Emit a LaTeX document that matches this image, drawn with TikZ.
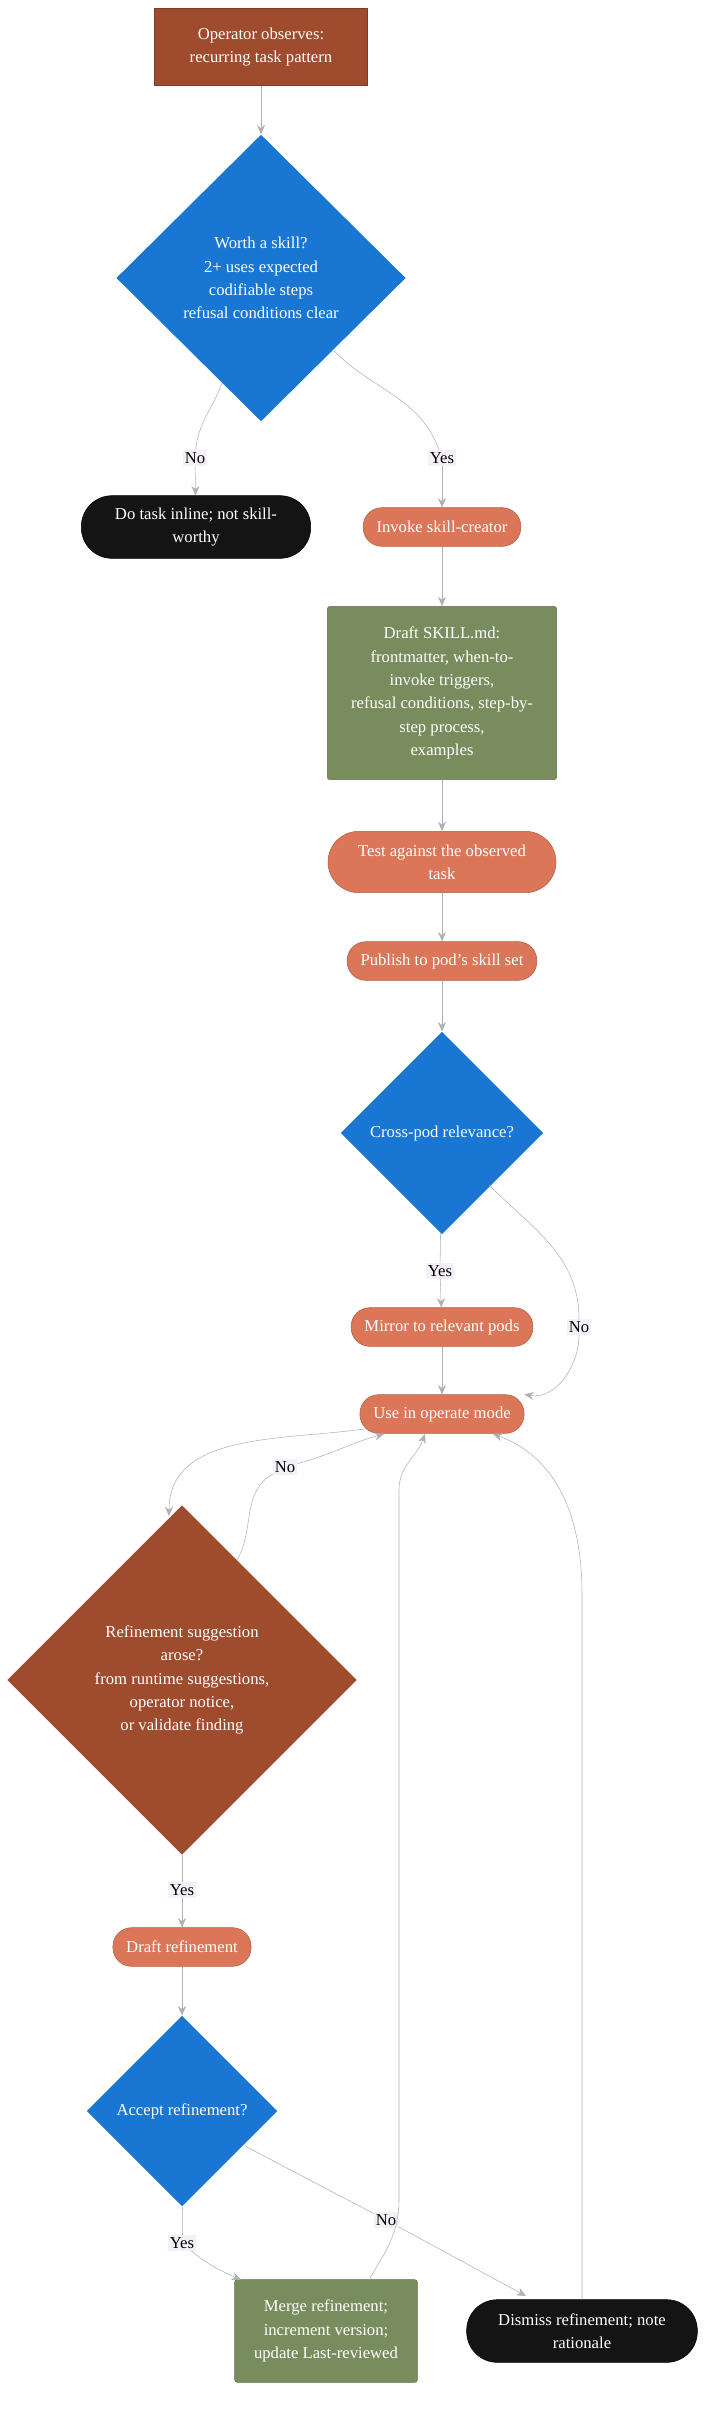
\documentclass[tikz,border=0pt]{standalone}
\usepackage{fontspec}
\setmainfont{Liberation Serif}
\usetikzlibrary{arrows.meta,positioning,shapes.geometric}
\definecolor{rust}{HTML}{9F4B2E}
\definecolor{skyblue}{HTML}{1976D2}
\definecolor{coal}{HTML}{141414}
\definecolor{clay}{HTML}{DB7758}
\definecolor{moss}{HTML}{788C5D}
\definecolor{wire}{HTML}{B0B0B0}
\definecolor{tag}{HTML}{F4F0F8}
\begin{document}
\begin{tikzpicture}[
    x=0.75pt, y=-0.75pt,
    every node/.style={font=\fontsize{12.5}{17.5}\selectfont, text=white, align=center},
    box/.style={rectangle, draw=#1!80!black, fill=#1, inner sep=2pt},
    task/.style={rectangle, rounded corners=14pt, draw=clay!80!black, fill=clay, minimum height=29pt, inner xsep=10pt},
    stop/.style={rectangle, rounded corners=23pt, draw=black, fill=coal, minimum height=47pt, inner xsep=10pt},
    choice/.style={diamond, fill=skyblue, inner sep=0pt},
    edgetag/.style={fill=tag, text=black, inner sep=1.5pt},
    arrow/.style={-{Stealth[length=7pt,width=6pt]}, draw=wire, thin}
]
\useasboundingbox (0,0) rectangle (708,2409);

% Intake
\node[box=rust, minimum width=160pt, minimum height=58pt] (observe) at (261,47) {Operator observes:\\recurring task pattern};
\node[choice, minimum width=217pt, minimum height=215pt] (worth) at (261,278) {Worth a skill?\\2+ uses expected\\codifiable steps\\refusal conditions clear};
\node[stop, minimum width=172pt] (inline) at (196,527) {Do task inline; not skill-\\worthy};
\node[task] (invoke) at (442,527) {Invoke skill-creator};

% Authoring
\node[box=moss, rounded corners=2pt, minimum width=172pt, minimum height=130pt] (draft) at (442,693) {Draft SKILL.md:\\frontmatter, when-to-\\invoke triggers,\\refusal conditions, step-by-\\step process,\\examples};
\node[task, rounded corners=23pt, minimum height=46pt, minimum width=171pt] (test) at (442,862) {Test against the observed\\task};
\node[task] (publish) at (442,961) {Publish to pod's skill set};
\node[choice, minimum width=152pt, minimum height=152pt] (crosspod) at (442,1133) {Cross-pod relevance?};
\node[task] (mirror) at (442,1327) {Mirror to relevant pods};
\node[task] (operate) at (442,1414) {Use in operate mode};

% Refinement loop
\node[choice, fill=rust, minimum width=262pt, minimum height=262pt] (refine) at (182,1680) {Refinement suggestion\\arose?\\from runtime suggestions,\\operator notice,\\or validate finding};
\node[task] (draftref) at (182,1947) {Draft refinement};
\node[choice, minimum width=143pt, minimum height=143pt] (accept) at (182,2111) {Accept refinement?};
\node[box=moss, rounded corners=2pt, minimum width=137pt, minimum height=77pt] (merge) at (326,2331) {Merge refinement;\\increment version;\\update Last-reviewed};
\node[stop, minimum width=173pt] (dismiss) at (582,2331) {Dismiss refinement; note\\rationale};

% Edge labels
\node[edgetag] (lno1) at (195,458) {No};
\node[edgetag] (lyes1) at (442,458) {Yes};
\node[edgetag] (lyes2) at (440,1271) {Yes};
\node[edgetag] (lno2) at (579,1327) {No};
\node[edgetag] (lno3) at (285,1467) {No};
\node[edgetag] (lyes3) at (182,1890) {Yes};
\node[edgetag] (lyes4) at (182,2243) {Yes};
\node[edgetag] (lno4) at (386,2220) {No};

% Connectors
\draw[arrow] (observe) -- (worth);
\draw[draw=wire] (222,383) to[out=-110,in=85] (lno1);
\draw[arrow] (lno1) -- (inline);
\draw[draw=wire] (334,351) to[out=-45,in=110] (lyes1);
\draw[arrow] (lyes1) -- (invoke);
\draw[arrow] (invoke) -- (draft);
\draw[arrow] (draft) -- (test);
\draw[arrow] (test) -- (publish);
\draw[arrow] (publish) -- (crosspod);
\draw[draw=wire] (crosspod) -- (lyes2);
\draw[arrow] (lyes2) -- (mirror);
\draw[arrow] (mirror) -- (operate);
\draw[draw=wire] (489,1185) to[out=-45,in=90] (lno2);
\draw[arrow] (lno2) to[out=-90,in=-10] (operate.north east);
\draw[arrow] (364,1429) to[out=188,in=90] (169,1516);
\draw[draw=wire] (237,1560) to[out=60,in=-150] (lno3);
\draw[arrow] (lno3) to[out=15,in=-165] (384,1434);
\draw[draw=wire] (refine) -- (lyes3);
\draw[arrow] (lyes3) -- (draftref);
\draw[arrow] (draftref) -- (accept);
\draw[draw=wire] (accept.south) to[out=-90,in=90] (lyes4);
\draw[arrow] (lyes4) to[out=-40,in=155] (241,2280);
\draw[draw=wire] (245,2146) -- (lno4);
\draw[arrow] (lno4) -- (526,2296);
\draw[arrow] (369,2280) to[out=60,in=-90] (399,2200) -- (399,1490) to[out=90,in=-110] (425,1434);
\draw[arrow] (dismiss.north) -- (582,1594) to[out=90,in=-20] (493,1434);
\end{tikzpicture}
\end{document}
